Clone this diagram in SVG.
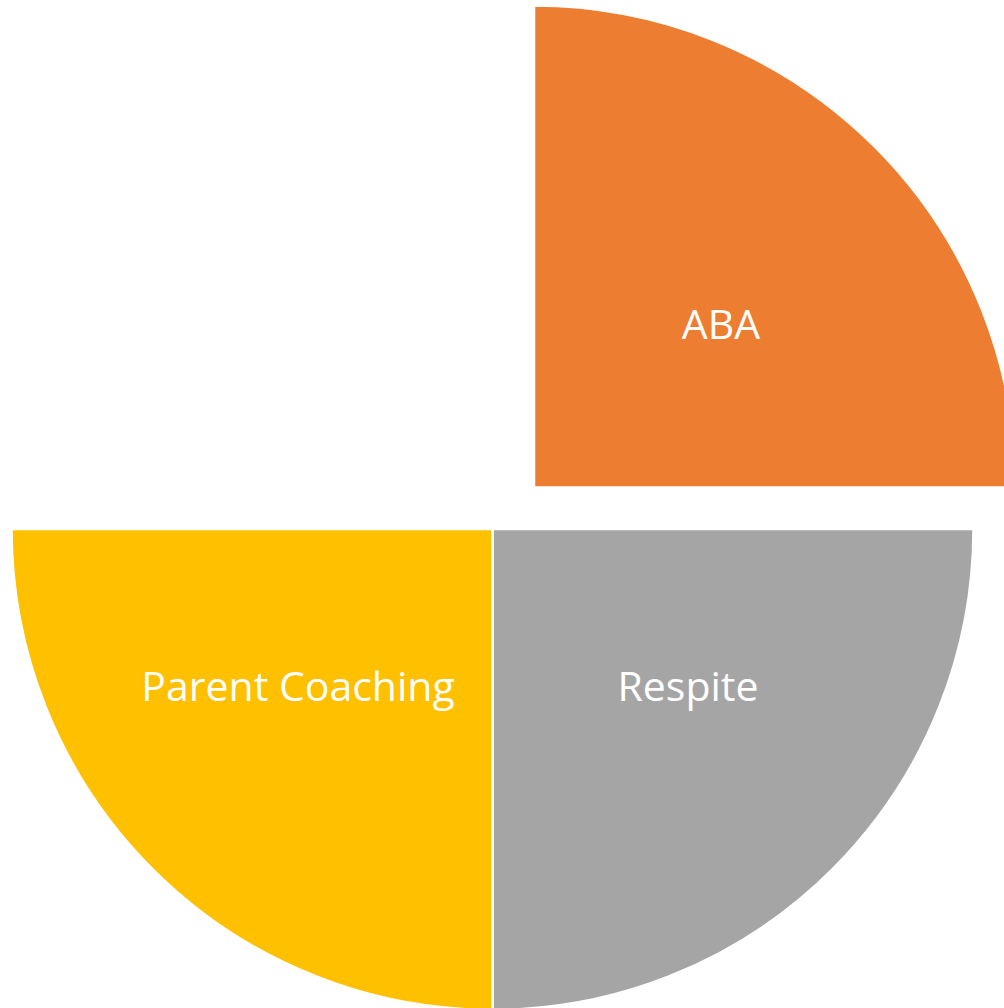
<svg xmlns="http://www.w3.org/2000/svg" width="1004" height="1008" viewBox="0 0 1004 1008">
<style>
.lbl{font-family:"Open Sans","Noto Sans",sans-serif;font-size:41px;fill:#ffffff;text-anchor:middle}
.sl{stroke:#ffffff;stroke-width:2.5}
</style>
<rect width="1004" height="1008" fill="#ffffff"/>
<g id="aba">
<path class="sl" d="M534,487.5 L534,5.5 A482,482 0 0 1 1016,487.5 Z" fill="#ED7D31"/>
<text class="lbl" x="721" y="339">ABA</text>
</g>
<g id="respite">
<path class="sl" d="M492.5,529 L973.5,529 A481,481 0 0 1 492.5,1010 Z" fill="#A5A5A5"/>
<text class="lbl" x="688" y="701">Respite</text>
</g>
<g id="parent-coaching">
<path class="sl" d="M492.5,529 L492.5,1010 A481,481 0 0 1 11.5,529 Z" fill="#FFC000"/>
<text class="lbl" x="298" y="701">Parent Coaching</text>
</g>
<g id="connectors"/>
</svg>
